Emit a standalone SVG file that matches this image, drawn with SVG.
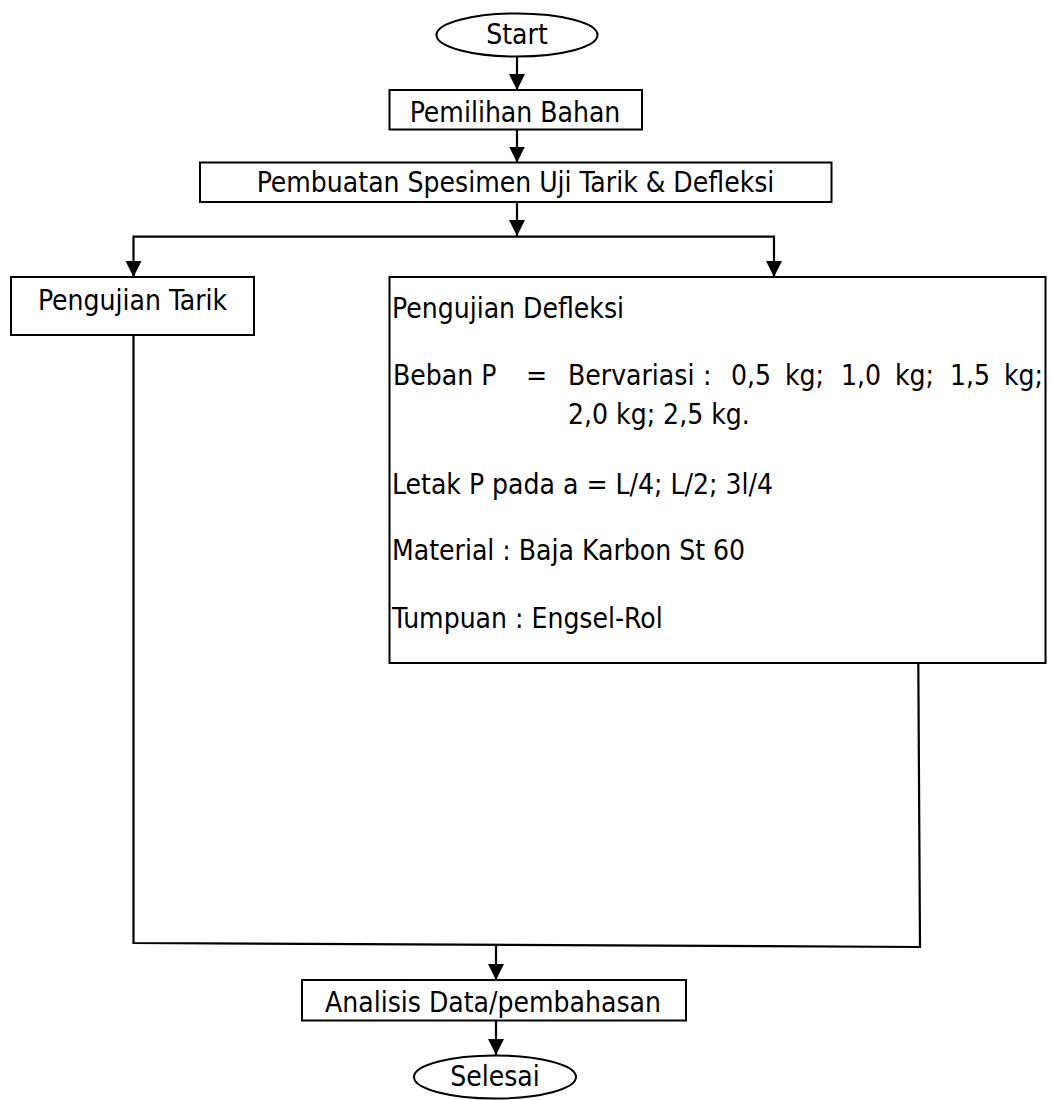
<svg xmlns="http://www.w3.org/2000/svg" width="1050" height="1100" viewBox="0 0 1050 1100">
  <style>
    .shape { fill: #ffffff; stroke: #000000; stroke-width: 2; }
    .conn { fill: none; stroke: #000000; stroke-width: 2.2; }
    text { font-family: 'DejaVu Sans Condensed', 'DejaVu Sans', sans-serif; font-stretch: condensed; font-size: 28px; fill: #000000; }
    .c { text-anchor: middle; }
  </style>
  <defs>
    <marker id="arrow" markerUnits="userSpaceOnUse" markerWidth="18" markerHeight="18" viewBox="0 0 18 18" refX="16" refY="9" orient="auto">
      <path d="M0,1 L16,9 L0,17 Z" fill="#000000"/>
    </marker>
  </defs>
  <rect width="1050" height="1100" fill="#ffffff"/>

  <g id="connectors">
    <line class="conn" x1="517" y1="56.5" x2="517" y2="90" marker-end="url(#arrow)"/>
    <line class="conn" x1="517" y1="130" x2="517" y2="162.5" marker-end="url(#arrow)"/>
    <line class="conn" x1="517" y1="202" x2="517" y2="236" marker-end="url(#arrow)"/>
    <polyline class="conn" points="133.5,236.7 774,236.7"/>
    <line class="conn" x1="133.5" y1="235.6" x2="133.5" y2="277" marker-end="url(#arrow)"/>
    <line class="conn" x1="774" y1="235.6" x2="774" y2="277" marker-end="url(#arrow)"/>
    <polyline class="conn" points="133.5,335 133.5,943 920,947 918.3,663"/>
    <line class="conn" x1="496" y1="945" x2="496" y2="980" marker-end="url(#arrow)"/>
    <line class="conn" x1="496" y1="1021" x2="496" y2="1055" marker-end="url(#arrow)"/>
  </g>

  <g id="start">
    <ellipse class="shape" cx="517" cy="35" rx="80.5" ry="21.5"/>
    <text class="c" x="517" y="44">Start</text>
  </g>

  <g id="pemilihan-bahan">
    <rect class="shape" x="389.5" y="90" width="252.5" height="39.5"/>
    <text class="c" x="515" y="121.5">Pemilihan Bahan</text>
  </g>

  <g id="pembuatan-spesimen">
    <rect class="shape" x="200" y="162.5" width="631.5" height="39.5"/>
    <text class="c" x="515.5" y="192">Pembuatan Spesimen Uji Tarik &amp; Defleksi</text>
  </g>

  <g id="pengujian-tarik">
    <rect class="shape" x="11" y="277" width="243" height="58"/>
    <text class="c" x="132.5" y="310">Pengujian Tarik</text>
  </g>

  <g id="pengujian-defleksi">
    <rect class="shape" x="389.5" y="277" width="656" height="386"/>
    <text x="392" y="318">Pengujian Defleksi</text>
    <text y="385"><tspan x="393">Beban P</tspan><tspan x="526">=</tspan><tspan x="568">Bervariasi</tspan><tspan x="703">:</tspan><tspan x="731">0,5</tspan><tspan x="785">kg;</tspan><tspan x="841">1,0</tspan><tspan x="895">kg;</tspan><tspan x="950">1,5</tspan><tspan x="1004">kg;</tspan></text>
    <text x="568" y="424">2,0 kg; 2,5 kg.</text>
    <text x="392" y="494">Letak P pada a = L/4; L/2; 3l/4</text>
    <text x="392" y="560">Material : Baja Karbon St 60</text>
    <text x="392" y="628">Tumpuan : Engsel-Rol</text>
  </g>

  <g id="analisis-data">
    <rect class="shape" x="302" y="980" width="384" height="40.5"/>
    <text class="c" x="493" y="1011.5">Analisis Data/pembahasan</text>
  </g>

  <g id="selesai">
    <ellipse class="shape" cx="495" cy="1077" rx="81" ry="21.5"/>
    <text class="c" x="495" y="1086">Selesai</text>
  </g>
</svg>
